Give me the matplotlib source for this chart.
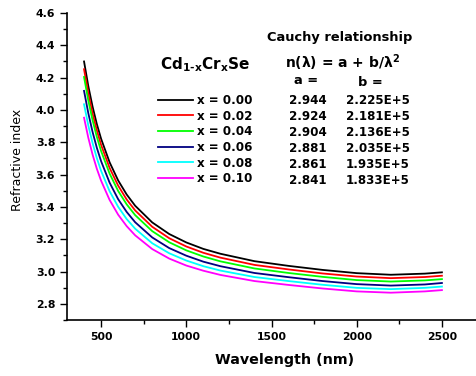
import matplotlib
matplotlib.use('Agg')
import matplotlib.pyplot as plt
from matplotlib.ticker import MultipleLocator

wavelength = [400, 425, 450, 475, 500, 550, 600, 650, 700, 800, 900, 1000,
              1100, 1200, 1400, 1600, 1800, 2000, 2200, 2400, 2500]

n_000 = [4.300, 4.148, 4.021, 3.913, 3.822, 3.676, 3.564, 3.477, 3.407, 3.304, 3.232,
         3.180, 3.140, 3.110, 3.064, 3.035, 3.010, 2.990, 2.980, 2.987, 2.995]
n_002 = [4.252, 4.104, 3.979, 3.874, 3.784, 3.641, 3.532, 3.446, 3.378, 3.277, 3.206,
         3.155, 3.116, 3.086, 3.041, 3.013, 2.988, 2.969, 2.959, 2.966, 2.974]
n_004 = [4.204, 4.059, 3.937, 3.834, 3.746, 3.606, 3.499, 3.416, 3.349, 3.250, 3.181,
         3.131, 3.093, 3.063, 3.019, 2.991, 2.967, 2.947, 2.938, 2.945, 2.953]
n_006 = [4.118, 3.980, 3.864, 3.766, 3.683, 3.550, 3.448, 3.369, 3.305, 3.211, 3.145,
         3.098, 3.061, 3.033, 2.991, 2.965, 2.941, 2.922, 2.913, 2.920, 2.929]
n_008 = [4.035, 3.904, 3.795, 3.702, 3.623, 3.497, 3.401, 3.325, 3.265, 3.175, 3.113,
         3.068, 3.033, 3.006, 2.966, 2.941, 2.918, 2.899, 2.891, 2.899, 2.907]
n_010 = [3.952, 3.828, 3.724, 3.636, 3.562, 3.443, 3.352, 3.281, 3.224, 3.139, 3.080,
         3.037, 3.005, 2.979, 2.941, 2.917, 2.895, 2.877, 2.869, 2.877, 2.885]

series = [n_000, n_002, n_004, n_006, n_008, n_010]
labels = ['x = 0.00', 'x = 0.02', 'x = 0.04', 'x = 0.06', 'x = 0.08', 'x = 0.10']
colors = ['#000000', '#ff0000', '#00ff00', '#000080', '#00ffff', '#ff00ff']
a_vals = ['2.944', '2.924', '2.904', '2.881', '2.861', '2.841']
b_vals = ['2.225E+5', '2.181E+5', '2.136E+5', '2.035E+5', '1.935E+5', '1.833E+5']

plt.rcParams['font.family'] = 'DejaVu Sans'
plt.rcParams['font.weight'] = 'bold'

W, H = 476, 376
fig = plt.figure(figsize=(W / 100, H / 100), dpi=100)
ax = fig.add_axes([67 / W, 1 - 320 / H, 1 - 67 / W, (320 - 13) / H])


def px(x, y):
    # pixel position -> figure fraction
    return x / W, 1 - y / H


for vals, lab, c in zip(series, labels, colors):
    ax.plot(wavelength, vals, color=c, lw=1.3, label=lab)

ax.set_xlim(300, 2700)
ax.set_ylim(2.7, 4.6)
ax.xaxis.set_major_locator(MultipleLocator(500))
ax.xaxis.set_minor_locator(MultipleLocator(250))
ax.yaxis.set_minor_locator(MultipleLocator(0.1))
ax.set_yticks([2.8, 3.0, 3.2, 3.4, 3.6, 3.8, 4.0, 4.2, 4.4, 4.6])
ax.tick_params(which='major', direction='out', length=5, width=1, labelsize=7.8)
ax.tick_params(which='minor', direction='out', length=3, width=1)
for s in ['top', 'right']:
    ax.spines[s].set_visible(False)
for s in ['left', 'bottom']:
    ax.spines[s].set_linewidth(1.2)
for lab in ax.get_xticklabels() + ax.get_yticklabels():
    lab.set_fontweight('bold')

fig.text(*px(18, 160), 'Refractive index', rotation=90, ha='center', va='center',
         fontsize=9, fontweight='normal')
fig.text(*px(285, 360), 'Wavelength (nm)', ha='center', va='center', fontsize=10.3)

leg = ax.legend(loc='upper left', bbox_to_anchor=px(158, 94), bbox_transform=fig.transFigure,
                frameon=False, fontsize=8.6, handlelength=2.9, handletextpad=0.4,
                labelspacing=0.22, borderpad=0, borderaxespad=0)

fig.text(*px(160, 65), 'Cd$_{\\mathbf{1\\text{-}x}}$Cr$_{\\mathbf{x}}$Se', ha='left', va='center',
         fontsize=11)
fig.text(*px(340, 37), 'Cauchy relationship', ha='center', va='center', fontsize=9.4)
fig.text(*px(343, 63), 'n(\u03bb) = a + b/\u03bb$^{\\mathbf{2}}$', ha='center', va='center',
         fontsize=10)
fig.text(*px(306, 81), 'a =', ha='center', va='center', fontsize=9.4)
fig.text(*px(370, 83), 'b =', ha='center', va='center', fontsize=9.4)
for i, (a, b) in enumerate(zip(a_vals, b_vals)):
    y = 100.7 + 16 * i
    fig.text(*px(308, y), a, ha='center', va='center', fontsize=8.6)
    fig.text(*px(378, y), b, ha='center', va='center', fontsize=8.6)

fig.savefig('out.png', dpi=100)
